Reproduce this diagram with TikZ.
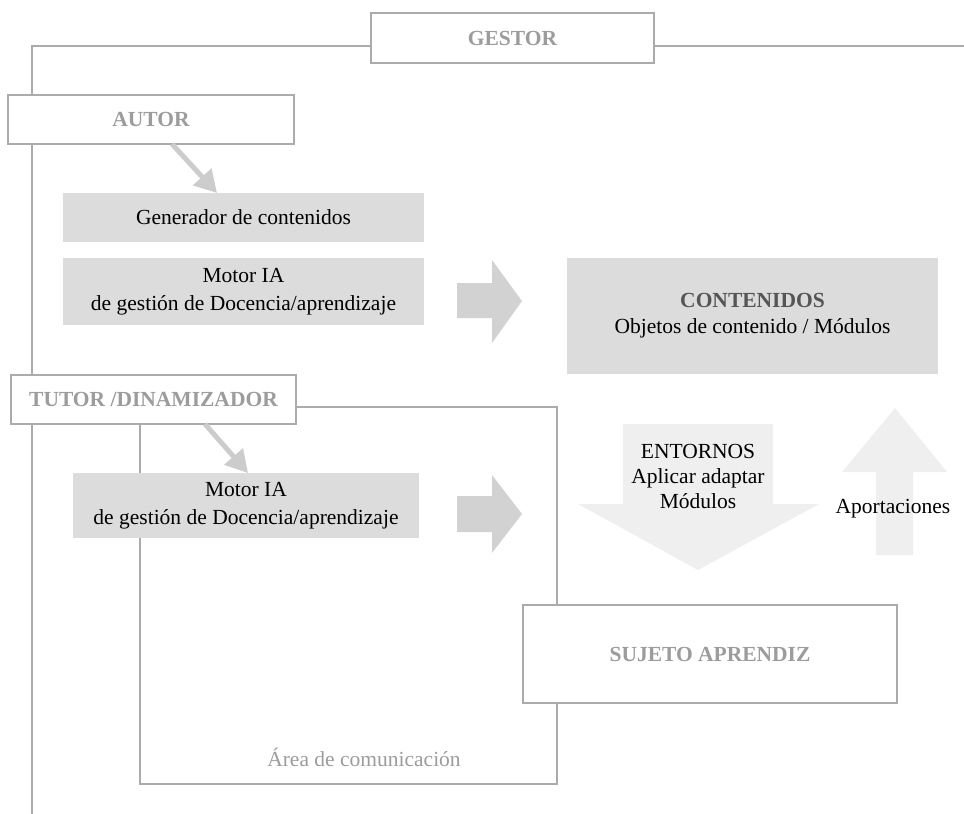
\documentclass[tikz,border=0pt]{standalone}
\usepackage{fontspec}
\setmainfont{Liberation Serif}
\usetikzlibrary{arrows.meta}
\definecolor{linegray}{HTML}{ABABAB}
\definecolor{labelgray}{HTML}{9C9C9C}
\definecolor{boxfill}{HTML}{DCDCDC}
\definecolor{arrowfill}{HTML}{D2D2D2}
\definecolor{palefill}{HTML}{EFEFEF}
\definecolor{diagarrow}{HTML}{CCCCCC}
\definecolor{darktext}{HTML}{555555}
\begin{document}
\begin{tikzpicture}[x=1pt,y=-1pt,
  every node/.style={font=\fontsize{21.5}{26}\selectfont, inner sep=0pt, outer sep=0pt},
  rolebox/.style={draw=linegray, line width=1.5pt, fill=white, text=labelgray,
    font=\fontsize{21.5}{26}\selectfont\bfseries},
  graybox/.style={fill=boxfill, align=center},
  thinline/.style={draw=linegray, line width=1.5pt},
  diag/.style={draw=diagarrow, line width=5pt, -{Triangle[width=24pt,length=22pt]}},
  blockarrow/.style={fill=arrowfill},
  palearrow/.style={fill=palefill},
]
\useasboundingbox (0,0) rectangle (964,814);

% outer GESTOR frame line
\coordinate (tl) at (32,46);
\coordinate (bl) at (32,814);
\coordinate (tr) at (964,46);
% communication area frame
\coordinate (ac1) at (557,407);
\coordinate (ac2) at (557,784);
\coordinate (ac3) at (140,784);

\node[rolebox, minimum width=283pt, minimum height=50pt] (gestor) at (512.5,38) {GESTOR};
\node[rolebox, minimum width=286pt, minimum height=49pt] (autor) at (151,119.5) {AUTOR};
\node[rolebox, minimum width=285pt, minimum height=49pt] (tutor) at (153.5,399.5) {TUTOR /DINAMIZADOR};

\begin{scope}[on background layer/.style={}]
\draw[thinline] (gestor.west |- tl) -- (tl) -- (autor.north -| tl);
\draw[thinline] (autor.south -| tl) -- (tutor.north -| tl);
\draw[thinline] (tutor.south -| tl) -- (bl);
\draw[thinline] (gestor.east |- tr) -- (tr);
\draw[thinline] (tutor.east |- ac1) -- (ac1) -- (ac2) -- (ac3) -- (ac3 |- tutor.south);
\end{scope}

\node[graybox, minimum width=361pt, minimum height=49pt] (gen) at (243.5,217.5) {Generador de contenidos};
\node[graybox, minimum width=361pt, minimum height=67pt, font=\fontsize{21.5}{28}\selectfont] (motor1) at (243.5,291.5) {Motor IA\\de gestión de Docencia/aprendizaje};
\node[graybox, minimum width=346pt, minimum height=65pt, font=\fontsize{21.5}{28}\selectfont] (motor2) at (246,505.5) {Motor IA\\de gestión de Docencia/aprendizaje};
\node[graybox, minimum width=371pt, minimum height=116pt, font=\fontsize{21.5}{26}\selectfont] (cont) at (752.5,316) {{\bfseries\color{darktext}CONTENIDOS}\\Objetos de contenido / Módulos};

\node[rolebox, minimum width=374pt, minimum height=98pt] (sujeto) at (710,654) {SUJETO APRENDIZ};

\node[text=labelgray] (area) at (364,757) {Área de comunicación};

% diagonal arrows
\draw[diag] ([xshift=21pt]autor.south) -- ([xshift=-26.5pt]gen.north);
\draw[diag] ([xshift=51.5pt]tutor.south) -- ([xshift=2pt]motor2.north);

% right block arrows
\fill[blockarrow] (457,283) -- (492,283) -- (492,260) -- (522,301) -- (492,343) -- (492,318) -- (457,318) -- cycle;
\fill[blockarrow] (457,496) -- (492,496) -- (492,475) -- (522,514) -- (492,553) -- (492,532) -- (457,532) -- cycle;

% down arrow (ENTORNOS)
\fill[palearrow] (623,424) -- (773,424) -- (773,504) -- (819,504) -- (698,570) -- (578,504) -- (623,504) -- cycle;
\node[align=center, font=\fontsize{21.5}{25}\selectfont] (entornos) at (698,476) {ENTORNOS\\Aplicar adaptar\\Módulos};

% up arrow (Aportaciones)
\fill[palearrow] (876,555) -- (913,555) -- (913,472) -- (947,472) -- (895,408) -- (842,472) -- (876,472) -- cycle;
\node (aport) at (893,509) {Aportaciones};

\end{tikzpicture}
\end{document}
